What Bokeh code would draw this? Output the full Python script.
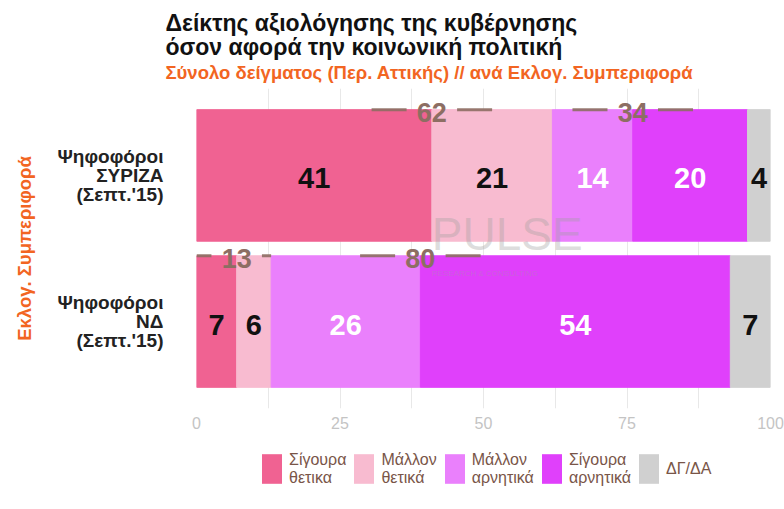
from bokeh.plotting import figure
from bokeh.layouts import column
from bokeh.models import (ColumnDataSource, FactorRange, Range1d, FixedTicker, Label,
                          Legend, LegendItem, Title)
from bokeh.transform import dodge
from bokeh.core.properties import value
from bokeh.embed import file_html
from bokeh.resources import INLINE

# ---------------- data ----------------
categories = ["Ψηφοφόροι\nΣΥΡΙΖΑ\n(Σεπτ.'15)", "Ψηφοφόροι\nΝΔ\n(Σεπτ.'15)"]
series_names = ["Σίγουρα\nθετικα", "Μάλλον\nθετικά", "Μάλλον\nαρνητικά", "Σίγουρα\nαρνητικά", "ΔΓ/ΔΑ"]
definitely_positive = [41, 7]
rather_positive = [21, 6]
rather_negative = [14, 26]
definitely_negative = [20, 54]
dk_na = [4, 7]
x_ticks = [0, 25, 50, 75, 100]
x_minor_ticks = [12.5, 37.5, 62.5, 87.5]

title_text = "Δείκτης αξιολόγησης της κυβέρνησης\nόσον αφορά την κοινωνική πολιτική"
subtitle_text = "Σύνολο δείγματος (Περ. Αττικής) // ανά Εκλογ. Συμπεριφορά"
y_title = "Εκλογ. Συμπεριφορά"
copyright_text = "© 2019 Pulse RC"

# ---------------- styles ----------------
colors = ["#F06292", "#F8BBD0", "#EA80FC", "#E040FB", "#D0D0D0"]
text_colors = ["#111111", "#111111", "#FFFFFF", "#FFFFFF", "#111111"]
FONT = "Liberation Sans"
ORANGE = "#F26522"
BROWN = "#8D6E63"

stack_cols = ["s1", "s2", "s3", "s4", "s5"]
series_values = [definitely_positive, rather_positive, rather_negative, definitely_negative, dk_na]

src = ColumnDataSource(dict(cat=categories, **{c: v for c, v in zip(stack_cols, series_values)}))

# segment labels
lab = dict(x=[], cat=[], t=[], c=[])
for ci, cat in enumerate(categories):
    cum = 0
    for si, vals in enumerate(series_values):
        v = vals[ci]
        lab["x"].append(cum + v / 2)
        lab["cat"].append(cat)
        lab["t"].append(str(v))
        lab["c"].append(text_colors[si])
        cum += v
lab_src = ColumnDataSource(lab)

# totals (positive / negative)
tot = dict(x=[], cat=[], t=[])
dash = dict(x0=[], x1=[], cat=[])
half_gap, half_len = 4.4, 10.5
for ci, cat in enumerate(categories):
    pos = definitely_positive[ci] + rather_positive[ci]
    neg = rather_negative[ci] + definitely_negative[ci]
    for total, anchor, lo, hi in [
        (pos, definitely_positive[ci], 0, pos),
        (neg, pos + rather_negative[ci], pos, pos + neg),
    ]:
        tot["x"].append(anchor)
        tot["cat"].append(cat)
        tot["t"].append(str(total))
        dash["x0"] += [max(anchor - half_len, lo), anchor + half_gap]
        dash["x1"] += [anchor - half_gap, min(anchor + half_len, hi)]
        dash["cat"] += [cat, cat]
tot_src = ColumnDataSource(tot)
dash_src = ColumnDataSource(dash)

# ---------------- main chart ----------------
p = figure(frame_width=574, frame_height=320,
           y_range=FactorRange(*categories[::-1], range_padding=0.095, range_padding_units="absolute"),
           x_range=Range1d(0, 100),
           output_backend="svg", toolbar_location=None,
           min_border_left=196, min_border_right=14, min_border_top=88, min_border_bottom=32)
p.outline_line_color = None
p.background_fill_color = "white"

renderers = p.hbar_stack(stack_cols, y="cat", height=0.9, color=colors, source=src)

p.text(x="x", y="cat", text="t", source=lab_src, text_color="c",
       text_font=value(FONT), text_font_style="bold", text_font_size="29px",
       text_align="center", text_baseline="middle", y_offset=3)

top_y = dodge("cat", 0.45, range=p.y_range)
p.segment(x0="x0", y0=top_y, x1="x1", y1=top_y, source=dash_src,
          line_color=BROWN, line_width=3, line_alpha=0.9)
p.text(x="x", y=top_y, text="t", source=tot_src, text_color=BROWN,
       text_font=value(FONT), text_font_style="bold", text_font_size="27px",
       text_align="center", text_baseline="middle", y_offset=3)

# axes
xa = p.xaxis[0]
xa.ticker = FixedTicker(ticks=x_ticks, minor_ticks=x_minor_ticks)
xa.axis_line_color = None
xa.major_tick_line_color = None
xa.minor_tick_line_color = None
xa.major_label_text_color = "#C4C4C4"
xa.major_label_text_font = FONT
xa.major_label_text_font_size = "16px"
xa.major_label_standoff = 2

ya = p.yaxis[0]
ya.axis_line_color = None
ya.major_tick_line_color = None
ya.minor_tick_line_color = None
ya.major_label_text_font = FONT
ya.major_label_text_font_style = "bold"
ya.major_label_text_font_size = "19px"
ya.major_label_text_line_height = 0.9
ya.major_label_text_color = "#222222"
ya.major_label_standoff = 27
ya.axis_label = y_title
ya.axis_label_text_font = FONT
ya.axis_label_text_font_style = "bold"
ya.axis_label_text_font_size = "18.5px"
ya.axis_label_text_color = ORANGE
ya.axis_label_standoff = 19

p.ygrid.grid_line_color = None
p.xgrid.grid_line_color = "#E8E8E8"
p.xgrid.minor_grid_line_color = "#E8E8E8"

# titles
p.add_layout(Title(text=subtitle_text, align="left", offset=-31, text_font=FONT,
                   text_font_style="bold", text_font_size="18.5px", text_color=ORANGE,
                   standoff=12), "above")
p.add_layout(Title(text=title_text, align="left", offset=-31, text_font=FONT,
                   text_font_style="bold", text_font_size="23px", text_color="#111111",
                   text_line_height=0.95, standoff=-14), "above")

# watermark
p.add_layout(Label(x=41, y=1.1, text="PULSE", text_font=FONT, text_font_size="46px",
                   text_color="#9E9E9E", text_alpha=0.35, text_baseline="middle"))
p.add_layout(Label(x=41, y=0.83, text="RESEARCH & CONSULTING", text_font=FONT,
                   text_font_size="8px", text_color="#9E9E9E", text_alpha=0.35,
                   text_baseline="middle"))

# ---------------- legend strip ----------------
p2 = figure(frame_width=784, frame_height=57, x_range=Range1d(0, 784), y_range=Range1d(0, 57),
            output_backend="svg", toolbar_location=None,
            x_axis_location=None, y_axis_location=None,
            min_border_left=0, min_border_right=0, min_border_top=0, min_border_bottom=0)
p2.grid.visible = False
p2.outline_line_color = None
# zero-size swatch renderers, used only to style the legend keys
swatches = [p2.hbar(y=[0], left=[0], right=[0], height=0, fill_color=c, line_color=None)
            for c in colors]

legend = Legend(items=[LegendItem(label=n, renderers=[r]) for n, r in zip(series_names, swatches)],
                orientation="horizontal", location=(259, 10),
                glyph_width=25, glyph_height=37, label_standoff=5, spacing=5,
                padding=0, margin=0, border_line_color=None, background_fill_alpha=0,
                label_text_font=FONT, label_text_font_size="16px",
                label_text_color="#795548", label_text_line_height=0.85)
p2.add_layout(legend, "center")

p2.add_layout(Title(text=copyright_text, align="right", offset=12, text_font=FONT,
                    text_font_style="normal", text_font_size="10px", text_color="#555555",
                    standoff=0), "below")

layout = column(p, p2)
open("out.html", "w").write(file_html(layout, INLINE))
